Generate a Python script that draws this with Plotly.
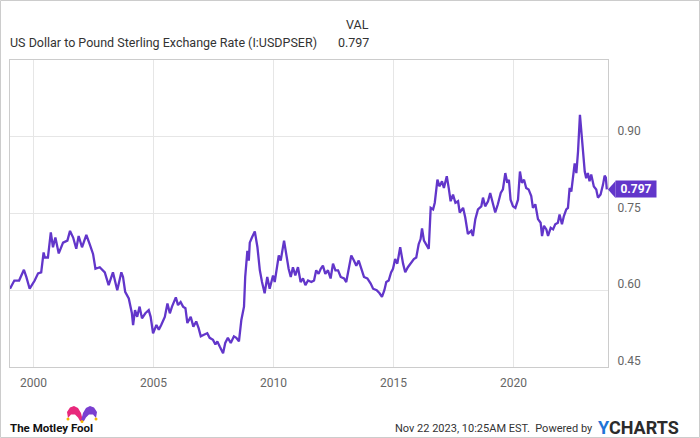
import datetime as dt
import plotly.graph_objects as go

# ---- data (decimal year, GBP per USD) ----
years = [
    1999.02, 1999.20, 1999.40, 1999.60, 1999.70, 1999.84, 2000.05, 2000.19, 2000.32, 2000.42,
    2000.47, 2000.60, 2000.72, 2000.81, 2000.91, 2001.05, 2001.23, 2001.41, 2001.52, 2001.65,
    2001.78, 2001.88, 2002.02, 2002.20, 2002.34, 2002.48, 2002.58, 2002.76, 2002.97, 2003.13,
    2003.31, 2003.49, 2003.66, 2003.73, 2003.82, 2003.97, 2004.10, 2004.15, 2004.23, 2004.32,
    2004.42, 2004.52, 2004.66, 2004.80, 2004.88, 2004.98, 2005.12, 2005.22, 2005.32, 2005.47,
    2005.58, 2005.68, 2005.77, 2005.93, 2006.02, 2006.13, 2006.23, 2006.33, 2006.41, 2006.55,
    2006.66, 2006.78, 2006.88, 2006.97, 2007.10, 2007.24, 2007.34, 2007.48, 2007.58, 2007.66,
    2007.76, 2007.90, 2007.99, 2008.10, 2008.22, 2008.35, 2008.45, 2008.56, 2008.66, 2008.77,
    2008.82, 2008.91, 2008.97, 2009.01, 2009.10, 2009.22, 2009.33, 2009.43, 2009.52, 2009.63,
    2009.74, 2009.84, 2009.98, 2010.05, 2010.22, 2010.30, 2010.44, 2010.53, 2010.63, 2010.72,
    2010.81, 2010.91, 2011.02, 2011.13, 2011.23, 2011.33, 2011.44, 2011.58, 2011.69, 2011.78,
    2011.88, 2011.97, 2012.06, 2012.16, 2012.27, 2012.38, 2012.48, 2012.58, 2012.69, 2012.80,
    2012.94, 2013.03, 2013.13, 2013.24, 2013.35, 2013.45, 2013.55, 2013.66, 2013.77, 2013.91,
    2014.05, 2014.15, 2014.30, 2014.42, 2014.52, 2014.62, 2014.70, 2014.80, 2014.90, 2014.98,
    2015.07, 2015.16, 2015.28, 2015.40, 2015.49, 2015.60, 2015.74, 2015.85, 2015.95, 2016.05,
    2016.13, 2016.19, 2016.27, 2016.37, 2016.47, 2016.55, 2016.65, 2016.72, 2016.83, 2016.92,
    2017.02, 2017.10, 2017.22, 2017.30, 2017.38, 2017.48, 2017.58, 2017.69, 2017.76, 2017.90,
    2017.99, 2018.10, 2018.24, 2018.31, 2018.41, 2018.52, 2018.66, 2018.73, 2018.82, 2018.94,
    2019.03, 2019.14, 2019.24, 2019.35, 2019.47, 2019.56, 2019.66, 2019.74, 2019.81, 2019.88,
    2019.98, 2020.08, 2020.19, 2020.27, 2020.35, 2020.44, 2020.53, 2020.63, 2020.74, 2020.81,
    2020.91, 2021.02, 2021.13, 2021.19, 2021.27, 2021.37, 2021.44, 2021.55, 2021.65, 2021.74,
    2021.85, 2021.92, 2022.02, 2022.10, 2022.20, 2022.27, 2022.34, 2022.41, 2022.48, 2022.55,
    2022.62, 2022.69, 2022.77, 2022.83, 2022.90, 2022.97, 2023.03, 2023.10, 2023.17, 2023.24,
    2023.35, 2023.45, 2023.52, 2023.63, 2023.73, 2023.80, 2023.85, 2023.89,
]
values = [
    0.603, 0.619, 0.619, 0.640, 0.626, 0.603, 0.619, 0.633, 0.635, 0.674,
    0.664, 0.664, 0.713, 0.684, 0.703, 0.672, 0.693, 0.697, 0.716, 0.703,
    0.681, 0.706, 0.684, 0.708, 0.690, 0.671, 0.642, 0.645, 0.635, 0.610,
    0.635, 0.600, 0.635, 0.626, 0.597, 0.584, 0.555, 0.532, 0.561, 0.548,
    0.568, 0.545, 0.555, 0.561, 0.548, 0.516, 0.532, 0.523, 0.532, 0.548,
    0.574, 0.555, 0.568, 0.586, 0.571, 0.577, 0.568, 0.565, 0.536, 0.548,
    0.529, 0.539, 0.526, 0.510, 0.513, 0.516, 0.507, 0.503, 0.494, 0.500,
    0.490, 0.477, 0.497, 0.507, 0.497, 0.510, 0.507, 0.500, 0.542, 0.568,
    0.626, 0.677, 0.658, 0.693, 0.703, 0.715, 0.684, 0.639, 0.616, 0.594,
    0.626, 0.603, 0.629, 0.616, 0.668, 0.658, 0.697, 0.671, 0.642, 0.626,
    0.645, 0.629, 0.645, 0.616, 0.623, 0.610, 0.619, 0.616, 0.619, 0.639,
    0.632, 0.642, 0.648, 0.632, 0.639, 0.623, 0.652, 0.639, 0.639, 0.626,
    0.623, 0.616, 0.642, 0.668, 0.658, 0.648, 0.658, 0.642, 0.626, 0.623,
    0.613, 0.603, 0.600, 0.594, 0.587, 0.600, 0.616, 0.619, 0.635, 0.642,
    0.661, 0.652, 0.684, 0.652, 0.635, 0.645, 0.655, 0.661, 0.664, 0.690,
    0.700, 0.721, 0.697, 0.690, 0.681, 0.761, 0.758, 0.771, 0.816, 0.803,
    0.813, 0.800, 0.823, 0.800, 0.774, 0.787, 0.771, 0.774, 0.752, 0.761,
    0.742, 0.710, 0.716, 0.706, 0.739, 0.758, 0.764, 0.781, 0.764, 0.774,
    0.790, 0.770, 0.752, 0.768, 0.790, 0.797, 0.829, 0.810, 0.816, 0.777,
    0.764, 0.761, 0.777, 0.832, 0.810, 0.816, 0.800, 0.797, 0.784, 0.761,
    0.768, 0.739, 0.732, 0.706, 0.726, 0.719, 0.706, 0.722, 0.719, 0.729,
    0.732, 0.748, 0.729, 0.745, 0.758, 0.761, 0.800, 0.793, 0.816, 0.848,
    0.829, 0.871, 0.943, 0.910, 0.871, 0.832, 0.819, 0.829, 0.813, 0.826,
    0.803, 0.797, 0.781, 0.787, 0.806, 0.824, 0.820, 0.797,
]
y_ticks = [0.45, 0.60, 0.75, 0.90]
x_tick_years = [2000, 2005, 2010, 2015, 2020]
series_name = "US Dollar to Pound Sterling Exchange Rate (I:USDPSER)"
last_value = "0.797"


def to_date(y):
    yr = int(y)
    start = dt.datetime(yr, 1, 1)
    length = (dt.datetime(yr + 1, 1, 1) - start).total_seconds()
    return start + dt.timedelta(seconds=(y - yr) * length)


dates = [to_date(y) for y in years]

PURPLE = "#6236CA"
L, R, T, B = 10, 608, 60, 367
W, H = R - L, B - T


def px(x):
    return (x - L) / W


def py(y):
    return (B - y) / H


def path(points):
    return "M " + " L ".join(f"{px(a):.5f},{py(b):.5f}" for a, b in points) + " Z"


fig = go.Figure()
fig.add_trace(go.Scatter(x=dates, y=values, mode="lines",
                         line=dict(color=PURPLE, width=2.3), name=series_name,
                         hoverinfo="x+y"))

font = "Roboto, Arial, sans-serif"
fig.update_layout(
    width=700, height=438,
    margin=dict(l=L, r=700 - R, t=T, b=438 - B),
    paper_bgcolor="white", plot_bgcolor="white",
    showlegend=False,
    font=dict(family=font, size=12, color="#666666"),
    xaxis=dict(
        range=[dates[0], to_date(2023.94)],
        tickvals=[dt.datetime(y, 1, 1) for y in x_tick_years],
        ticktext=[str(y) for y in x_tick_years],
        showgrid=True, gridcolor="#e6e6e6", gridwidth=1,
        showline=True, linecolor="#cccccc", linewidth=1, mirror=True,
        ticks="", zeroline=False, ticklabelstandoff=5,
        tickfont=dict(size=12, color="#666666"),
    ),
    yaxis=dict(
        range=[0.45, 1.05], side="right",
        tickvals=y_ticks, ticktext=[f"{v:.2f}" for v in y_ticks],
        showgrid=True, gridcolor="#e6e6e6", gridwidth=1,
        showline=True, linecolor="#cccccc", linewidth=1, mirror=True,
        ticks="", zeroline=False, ticklabelshift=-6, ticklabelstandoff=6,
        tickfont=dict(size=12, color="#666666"),
    ),
)

ann = []
ann.append(dict(x=px(8), y=py(43), xref="paper", yref="paper", text=series_name,
                xanchor="left", yanchor="middle", showarrow=False,
                font=dict(family=font, size=12.5, color="#333333")))
ann.append(dict(x=px(371), y=py(25), xref="paper", yref="paper", text="VAL",
                xanchor="right", yanchor="middle", showarrow=False,
                font=dict(family=font, size=12.5, color="#333333")))
ann.append(dict(x=px(371), y=py(43), xref="paper", yref="paper", text=last_value,
                xanchor="right", yanchor="middle", showarrow=False,
                font=dict(family=font, size=12.5, color="#333333")))
# last value flag
ann.append(dict(x=px(615), y=values[-1], xref="paper", yref="y",
                text="<b>" + last_value + "</b>", xanchor="left", yanchor="middle",
                showarrow=False, bgcolor=PURPLE, borderpad=1, width=38,
                font=dict(family=font, size=12, color="white")))
# footer
ann.append(dict(x=px(8), y=py(428), xref="paper", yref="paper", text="<b>The Motley Fool</b>",
                xanchor="left", yanchor="middle", showarrow=False,
                font=dict(family=font, size=11.5, color="#111111")))
ann.append(dict(x=px(595), y=py(428), xref="paper", yref="paper",
                text="Nov 22 2023, 10:25AM EST.  Powered by",
                xanchor="right", yanchor="middle", showarrow=False,
                font=dict(family=font, size=11, color="#333333")))
ann.append(dict(x=px(596), y=py(427), xref="paper", yref="paper",
                text="<b><span style='color:#1f74d6'>Y</span>CHARTS</b>",
                xanchor="left", yanchor="middle", showarrow=False,
                font=dict(family=font, size=18, color="#2b2b2b")))
fig.update_layout(annotations=ann)

shapes = []
# outer border
shapes.append(dict(type="rect", xref="paper", yref="paper",
                   x0=px(0.5), x1=px(699.5), y0=py(0.5), y1=py(437.5),
                   line=dict(color="#cccccc", width=1), fillcolor="rgba(0,0,0,0)", layer="below"))
# flag arrow
tri_h = 8.5 / 512
shapes.append(dict(type="path", xref="paper", yref="y",
                   path=f"M {px(608):.5f},{values[-1]} L {px(615.5):.5f},{values[-1] + tri_h} "
                        f"L {px(615.5):.5f},{values[-1] - tri_h} Z",
                   fillcolor=PURPLE, line=dict(width=0)))
# jester hat logo
shapes.append(dict(type="path", xref="paper", yref="paper",
                   path=path([(83, 421), (81, 413), (78, 408), (74, 406), (70, 407.5), (67, 412),
                              (68, 418), (71, 414.5), (75, 414.5), (78, 417.5), (80, 421)]),
                   fillcolor="#e8287c", line=dict(width=0)))
shapes.append(dict(type="path", xref="paper", yref="paper",
                   path=path([(81, 421), (83, 413), (86, 408), (90, 406), (94, 407.5), (97, 412),
                              (96, 418), (93, 414.5), (89, 414.5), (86, 417.5), (84, 421)]),
                   fillcolor="#7a3fd0", line=dict(width=0)))
for cx, cy in [(68, 419), (96, 419), (82, 421.5)]:
    shapes.append(dict(type="circle", xref="paper", yref="paper",
                       x0=px(cx - 1.5), x1=px(cx + 1.5), y0=py(cy + 1.5), y1=py(cy - 1.5),
                       fillcolor="#f5b700", line=dict(width=0)))
fig.update_layout(shapes=shapes)

fig.write_html("out.html")
